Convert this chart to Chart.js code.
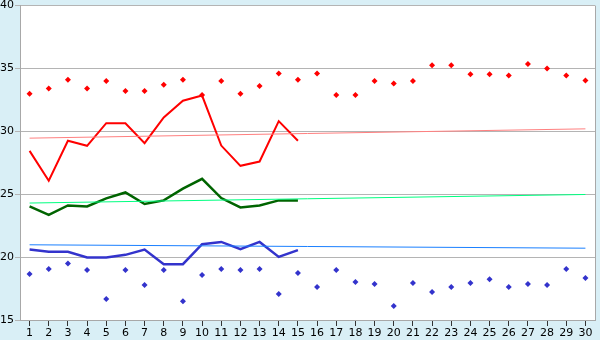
<!DOCTYPE html>
<html>
<head>
<meta charset="utf-8">
<script src="https://cdn.jsdelivr.net/npm/chart.js@4"></script>
<style>
  html, body { margin: 0; padding: 0; background: #d9eff6; overflow: hidden; }
  #wrap { width: 600px; height: 340px; position: relative; overflow: hidden; }
  #chart { position: absolute; left: 0; top: -2px; }
</style>
</head>
<body>
<div id="wrap"><canvas id="chart" width="600" height="342"></canvas></div>
<script>
const days = ['1','2','3','4','5','6','7','8','9','10','11','12','13','14','15',
  '16','17','18','19','20','21','22','23','24','25','26','27','28','29','30'];

// daily max / min markers (all month)
const maxPts = [33.0, 33.4, 34.1, 33.4, 34.0, 33.2, 33.2, 33.7, 34.1, 32.9,
  34.0, 33.0, 33.6, 34.6, 34.1, 34.6, 32.9, 32.9, 34.0, 33.8,
  34.0, 35.25, 35.25, 34.55, 34.55, 34.45, 35.35, 35.0, 34.45, 34.05];
const minPts = [18.65, 19.05, 19.5, 18.97, 16.67, 18.97, 17.78, 18.97, 16.5, 18.57,
  19.05, 18.97, 19.05, 17.06, 18.73, 17.62, 18.97, 18.02, 17.86, 16.11,
  17.94, 17.22, 17.62, 17.94, 18.25, 17.62, 17.86, 17.78, 19.05, 18.33];

// current month so far (days 1-15)
const maxLine = [28.45, 26.07, 29.25, 28.85, 30.65, 30.65, 29.06, 31.1, 32.44, 32.85,
  28.87, 27.26, 27.6, 30.81, 29.25];
const meanLine = [24.03, 23.35, 24.11, 24.03, 24.67, 25.14, 24.22, 24.51, 25.44, 26.23,
  24.7, 23.95, 24.11, 24.51, 24.51];
const minLine = [20.6, 20.42, 20.42, 19.97, 19.97, 20.18, 20.6, 19.44, 19.44, 21.03,
  21.21, 20.63, 21.21, 20.02, 20.56];

// long-term normals: start and end values only
const normMax = [29.46, 30.2];
const normMean = [24.3, 24.98];
const normMin = [20.98, 20.71];

function ends(pair) {
  return days.map((d, i) => i === 0 ? pair[0] : (i === days.length - 1 ? pair[1] : null));
}

const frame = {
  id: 'frame',
  beforeDraw(c) {
    const a = c.chartArea, ctx = c.ctx;
    ctx.save();
    ctx.fillStyle = '#ffffff';
    ctx.fillRect(a.left, a.top, a.right - a.left, a.bottom - a.top);
    ctx.restore();
  },
  afterDraw(c) {
    const a = c.chartArea, ctx = c.ctx;
    ctx.save();
    ctx.strokeStyle = '#a8a8a8';
    ctx.lineWidth = 1;
    ctx.beginPath();
    ctx.moveTo(Math.round(a.right) + 0.5, a.top);
    ctx.lineTo(Math.round(a.right) + 0.5, a.bottom);
    ctx.stroke();
    ctx.restore();
  }
};

const line = (data, color, w) => ({ type: 'line', data, borderColor: color, backgroundColor: color,
  borderWidth: w, pointRadius: 0, tension: 0, fill: false });
const dots = (data, color) => ({ type: 'line', data, showLine: false, pointStyle: 'rectRot',
  pointRadius: 3, pointHoverRadius: 3, pointBorderWidth: 0, pointBackgroundColor: color, borderColor: color });

new Chart(document.getElementById('chart'), {
  type: 'line',
  data: {
    labels: days,
    datasets: [
      { ...line(ends(normMax), '#ff8080', 1), spanGaps: true },
      { ...line(ends(normMean), '#00ff80', 1), spanGaps: true },
      { ...line(ends(normMin), '#1a80ff', 1), spanGaps: true },
      line(maxLine, '#ff0000', 2),
      line(meanLine, '#006400', 2.5),
      line(minLine, '#3333cc', 2.5),
      dots(maxPts, '#ff0000'),
      dots(minPts, '#3333cc'),
    ]
  },
  options: {
    responsive: false, animation: false,
    layout: { padding: { left: 0, right: 5, top: 5, bottom: 0 } },
    plugins: { legend: { display: false }, tooltip: { enabled: false } },
    scales: {
      x: {
        offset: true,
        grid: { display: true, drawOnChartArea: false, drawTicks: true, tickLength: 6, color: '#333333' },
        border: { color: '#a8a8a8' },
        ticks: { color: '#000', font: { family: 'DejaVu Sans', size: 11 }, padding: 1, maxRotation: 0, autoSkip: false },
        afterFit(s) { s.height = 20; }
      },
      y: {
        min: 15, max: 40,
        grid: { color: '#b4b4b4', drawTicks: true, tickLength: 5 },
        border: { color: '#a8a8a8' },
        ticks: { stepSize: 5, color: '#000', font: { family: 'DejaVu Sans', size: 11 }, padding: 1 },
        afterFit(s) { s.width = 20; }
      }
    }
  },
  plugins: [frame]
});
</script>
</body>
</html>
